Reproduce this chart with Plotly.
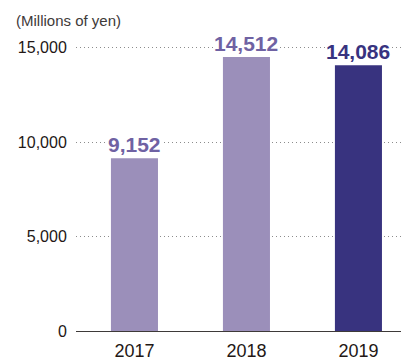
import plotly.graph_objects as go

years = ["2017", "2018", "2019"]
values = [9152, 14512, 14086]
bar_colors = ["#9b8fba", "#9b8fba", "#38337f"]
label_colors = ["#6f62a3", "#6f62a3", "#38337f"]
y_ticks = [0, 5000, 10000, 15000]
y_tick_labels = ["0", "5,000", "10,000", "15,000"]

xpos = list(range(len(years)))
FONT = "Liberation Sans, Arial, Helvetica"

fig = go.Figure()
fig.add_trace(go.Bar(
    x=xpos, y=values, marker=dict(color=bar_colors, line=dict(width=0)),
    width=0.42, hoverinfo="skip",
))

# value labels above each bar, with a white box so the grid dots stop around them
for x, v, c in zip(xpos, values, label_colors):
    fig.add_annotation(
        x=x, y=v, text=f"<b>{v:,}</b>", showarrow=False,
        yanchor="bottom", yshift=1, bgcolor="white", borderpad=0,
        font=dict(family=FONT, size=21, color=c),
    )

fig.add_annotation(
    xref="paper", yref="paper", x=-0.191, y=1.0, xanchor="left", yanchor="bottom",
    yshift=-2, text="(Millions of yen)", showarrow=False,
    font=dict(family=FONT, size=15, color="#3e3a39"),
)

fig.update_layout(
    width=401, height=363, margin=dict(l=76, r=0, t=29, b=32),
    plot_bgcolor="white", paper_bgcolor="white", showlegend=False,
    font=dict(family=FONT, color="#231815"),
    xaxis=dict(
        range=[-0.522, 2.38], tickvals=xpos, ticktext=years, automargin=False,
        showgrid=False, zeroline=False, showline=True, linecolor="#3e3a39", linewidth=1,
        ticks="outside", ticklen=3, tickcolor="rgba(0,0,0,0)",
        tickfont=dict(size=18),
    ),
    yaxis=dict(
        range=[0, 16000], tickvals=y_ticks, ticktext=y_tick_labels, automargin=False,
        showgrid=True, gridcolor="#8c8c8c", griddash="1px,3px", gridwidth=1,
        zeroline=False, showline=False,
        ticks="outside", ticklen=5, tickcolor="rgba(0,0,0,0)",
        tickfont=dict(size=16),
    ),
)

fig.write_html("out.html")
